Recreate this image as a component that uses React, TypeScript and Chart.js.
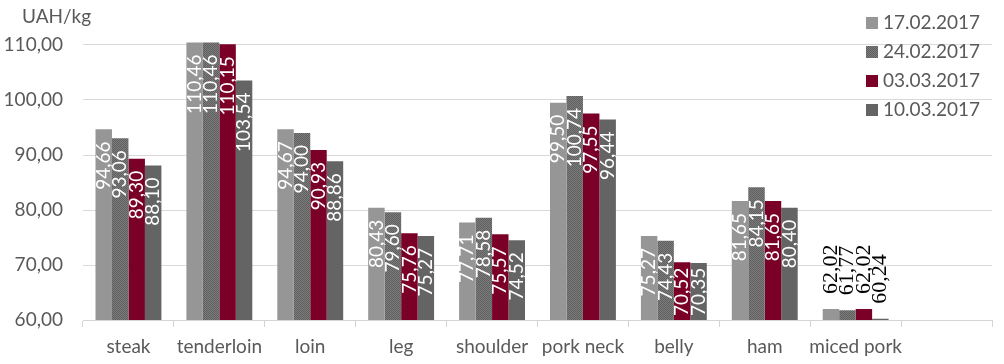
import React, { useEffect, useRef } from "react";
import { Chart, registerables } from "chart.js";

Chart.register(...registerables);

const categories = ["steak", "tenderloin", "loin", "leg", "shoulder", "pork neck", "belly", "ham", "miced pork", ""];
const seriesNames = ["17.02.2017", "24.02.2017", "03.03.2017", "10.03.2017"];
const series1 = [94.66, 110.46, 94.67, 80.43, 77.71, 99.5, 75.27, 81.65, 62.02, null];
const series2 = [93.06, 110.46, 94.0, 79.6, 78.58, 100.74, 74.43, 84.15, 61.77, null];
const series3 = [89.3, 110.15, 90.93, 75.76, 75.57, 97.55, 70.52, 81.65, 62.02, null];
const series4 = [88.1, 103.54, 88.86, 75.27, 74.52, 96.44, 70.35, 80.4, 60.24, null];
const yTicks = [60, 70, 80, 90, 100, 110];
const yMin = 60;
const yMax = 112;
const unitLabel = "UAH/kg";

const TEXT_COLOR = "#595959";
const FONT = "Lato";

function fmt(v: number) {
  return v.toFixed(2).replace(".", ",");
}

function makeDither(): CanvasPattern | string {
  const c = document.createElement("canvas");
  c.width = 2;
  c.height = 2;
  const g = c.getContext("2d");
  if (!g) return "#6e6e6e";
  g.fillStyle = "#7c7c7c";
  g.fillRect(0, 0, 2, 2);
  g.fillStyle = "#5f5f5f";
  g.fillRect(0, 0, 1, 1);
  g.fillRect(1, 1, 1, 1);
  const p = g.createPattern(c, "repeat");
  return p || "#6e6e6e";
}

const labelPlugin = {
  id: "barLabels",
  afterDatasetsDraw(chart: any) {
    const ctx = chart.ctx;
    const axisY = chart.scales.y.getPixelForValue(yMin);
    chart.data.datasets.forEach((ds: any, di: number) => {
      const meta = chart.getDatasetMeta(di);
      meta.data.forEach((bar: any, i: number) => {
        const v = ds.data[i];
        if (v == null) return;
        const text = fmt(v);
        const { x, y } = bar.getProps(["x", "y"], true);
        ctx.save();
        ctx.textBaseline = "middle";
        if (v < 65) {
          ctx.font = '22px "Times New Roman", "Liberation Serif", "DejaVu Serif", serif';
          ctx.fillStyle = "#000000";
          ctx.translate(x, y - 15);
          ctx.rotate(-Math.PI / 2);
          ctx.textAlign = "left";
          ctx.fillText(text, 0, 0);
        } else {
          ctx.font = `19px ${FONT}`;
          ctx.fillStyle = "#ffffff";
          const w = ctx.measureText(text).width;
          let end = y + 12;
          if (end + w > axisY - 4) end = axisY - 4 - w;
          ctx.translate(x, end);
          ctx.rotate(-Math.PI / 2);
          ctx.textAlign = "right";
          ctx.fillText(text, 0, 0);
        }
        ctx.restore();
      });
    });
  },
};

const legendTitlePlugin = {
  id: "legendTitle",
  afterDraw(chart: any) {
    const ctx = chart.ctx;
    ctx.save();
    ctx.font = `19px ${FONT}`;
    ctx.fillStyle = TEXT_COLOR;
    ctx.textAlign = "left";
    ctx.textBaseline = "alphabetic";
    ctx.fillText(unitLabel, 22, 23);
    ctx.textBaseline = "middle";
    chart.data.datasets.forEach((ds: any, i: number) => {
      const cy = 22.5 + i * 29.2;
      ctx.fillStyle = ds.backgroundColor;
      ctx.fillRect(866, Math.round(cy - 6), 12, 12);
      ctx.fillStyle = TEXT_COLOR;
      ctx.fillText(ds.label, 883, cy);
    });
    ctx.restore();
  },
};

export default function App() {
  const ref = useRef<HTMLCanvasElement | null>(null);

  useEffect(() => {
    const canvas = ref.current;
    if (!canvas) return;
    const dither = makeDither();
    const colors: any[] = ["#969696", dither, "#7a0028", "#646464"];
    const values = [series1, series2, series3, series4];
    const chart = new Chart(canvas, {
      type: "bar",
      data: {
        labels: categories,
        datasets: seriesNames.map((name, i) => ({
          label: name,
          data: values[i] as any,
          backgroundColor: colors[i],
          borderWidth: 0,
          categoryPercentage: 0.725,
          barPercentage: 1,
        })),
      },
      options: {
        responsive: false,
        animation: false,
        layout: { padding: { top: 34, right: 12, left: 0, bottom: 0 } },
        plugins: {
          legend: { display: false },
          tooltip: { enabled: false },
        },
        scales: {
          x: {
            grid: {
              offset: true,
              drawOnChartArea: false,
              drawTicks: true,
              tickLength: 7,
              color: "#d4d4d4",
            },
            border: { display: true, color: "#d4d4d4" },
            ticks: {
              color: TEXT_COLOR,
              font: { family: FONT, size: 19 },
              padding: 8,
              maxRotation: 0,
              autoSkip: false,
            },
            afterFit: (s: any) => {
              s.height = 44;
            },
          },
          y: {
            min: yMin,
            max: yMax,
            afterBuildTicks: (s: any) => {
              s.ticks = yTicks.map((v) => ({ value: v }));
            },
            grid: { color: "#d9d9d9", drawTicks: false },
            border: { display: false },
            ticks: {
              color: TEXT_COLOR,
              font: { family: FONT, size: 19 },
              padding: 20,
              callback: (v: any) => fmt(Number(v)),
            },
            afterFit: (s: any) => {
              s.width = 83;
            },
          },
        },
      } as any,
      plugins: [labelPlugin, legendTitlePlugin],
    });
    return () => chart.destroy();
  }, []);

  return (
    <div style={{ position: "absolute", left: 0, top: 0, width: 1004, height: 364, background: "#ffffff" }}>
      <canvas ref={ref} width={1004} height={364} style={{ display: "block" }} />
    </div>
  );
}
